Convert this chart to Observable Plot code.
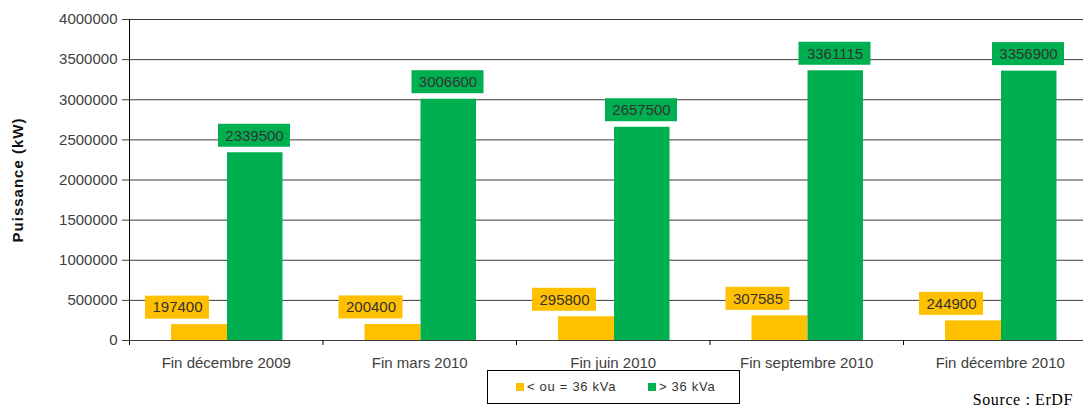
<!DOCTYPE html>
<html>
<head>
<meta charset="utf-8">
<script src="https://cdn.jsdelivr.net/npm/d3@7"></script>
<script src="https://cdn.jsdelivr.net/npm/@observablehq/plot@0.6"></script>
<style>
  html, body { margin: 0; padding: 0; background: #fff; }
  #wrap { position: relative; width: 1083px; height: 414px; overflow: hidden; font-family: "Liberation Sans", Arial, sans-serif; }
  #legend { position: absolute; left: 487px; top: 370px; width: 253px; height: 34px; border: 1px solid #000; box-sizing: border-box; font-size: 13px; letter-spacing: 0.7px; color: #333; background: #fff; }
  .item { position: absolute; top: 8px; white-space: nowrap; }
  .sw { display: inline-block; width: 8px; height: 8px; margin-right: 3px; }
  #source { position: absolute; right: 10px; top: 391px; font-family: "Liberation Serif", "Times New Roman", serif; font-size: 16px; letter-spacing: 0.6px; color: #000; }
</style>
</head>
<body>
<div id="wrap">
  <div id="chart"></div>
  <div id="legend"></div>
  <div id="source">Source : ErDF</div>
</div>
<script>
const categories = ["Fin décembre 2009", "Fin mars 2010", "Fin juin 2010", "Fin septembre 2010", "Fin décembre 2010"];
const seriesNames = ["< ou = 36 kVa", "> 36 kVa"];
const seriesColors = ["#FFC000", "#00B050"];
const smallValues = [197400, 200400, 295800, 307585, 244900];
const largeValues = [2339500, 3006600, 2657500, 3361115, 3356900];
const yTicks = [0, 500000, 1000000, 1500000, 2000000, 2500000, 3000000, 3500000, 4000000];

const small = categories.map((c, i) => ({cat: c, value: smallValues[i]}));
const large = categories.map((c, i) => ({cat: c, value: largeValues[i]}));

const step = (1096.5 - 129) / categories.length;
const half = step / 2;

function labelMarks(data, color, boxLeft, boxRight) {
  const center = (boxLeft + (step - boxRight)) / 2;
  return [
    Plot.barY(data, {x: "cat", y1: "value", y2: "value", fill: color,
      insetTop: -11.5, insetBottom: -11.5, insetLeft: boxLeft, insetRight: boxRight, dy: -17}),
    Plot.text(data, {x: "cat", y: "value", text: d => String(d.value), dx: center - half, dy: -17,
      fill: "#333", fontSize: 15})
  ];
}

const chart = Plot.plot({
  width: 1083,
  height: 414,
  marginTop: 19,
  marginBottom: 74,
  marginLeft: 129,
  marginRight: 0,
  style: {fontFamily: "'Liberation Sans', Arial, sans-serif", fontSize: "15px", color: "#404040", background: "#fff"},
  x: {domain: categories, range: [129, 1096.5], padding: 0, round: false, tickSize: 0, tickPadding: 17, label: null},
  y: {domain: [0, 4000000], ticks: yTicks, tickFormat: d3.format("d"), tickSize: 7, tickPadding: 5, label: null},
  marks: [
    Plot.ruleY(yTicks, {stroke: "#3a3a3a", strokeWidth: 1}),
    Plot.ruleX([categories[0]], {x: d => d, dx: -half, y1: 0, y2: 4000000, stroke: "#000"}),
    Plot.ruleX(categories, {x: d => d, dx: -half, y1: 0, y2: 0, insetBottom: -5, stroke: "#000"}),
    Plot.barY(small, {x: "cat", y: "value", fill: seriesColors[0], insetLeft: 42, insetRight: step - 98}),
    Plot.barY(large, {x: "cat", y: "value", fill: seriesColors[1], insetLeft: 98, insetRight: step - 153.5}),
    ...labelMarks(small, seriesColors[0], 16, step - 80),
    ...labelMarks(large, seriesColors[1], 89, step - 161),
    Plot.text(["Puissance (kW)"], {frameAnchor: "left", dx: -111, rotate: -90, textAnchor: "middle",
      fontWeight: "bold", fontSize: 15, fill: "#111"})
  ]
});
d3.select(chart).selectAll("text").filter(function() { return this.textContent === "Puissance (kW)"; })
  .style("letter-spacing", "1px");
document.getElementById("chart").appendChild(chart);

const legend = document.getElementById("legend");
const itemLefts = [28, 160];
seriesNames.forEach((name, i) => {
  const it = document.createElement("div");
  it.className = "item";
  it.style.left = itemLefts[i] + "px";
  const sw = document.createElement("span");
  sw.className = "sw";
  sw.style.background = seriesColors[i];
  it.appendChild(sw);
  it.appendChild(document.createTextNode(name));
  legend.appendChild(it);
});
</script>
</body>
</html>
